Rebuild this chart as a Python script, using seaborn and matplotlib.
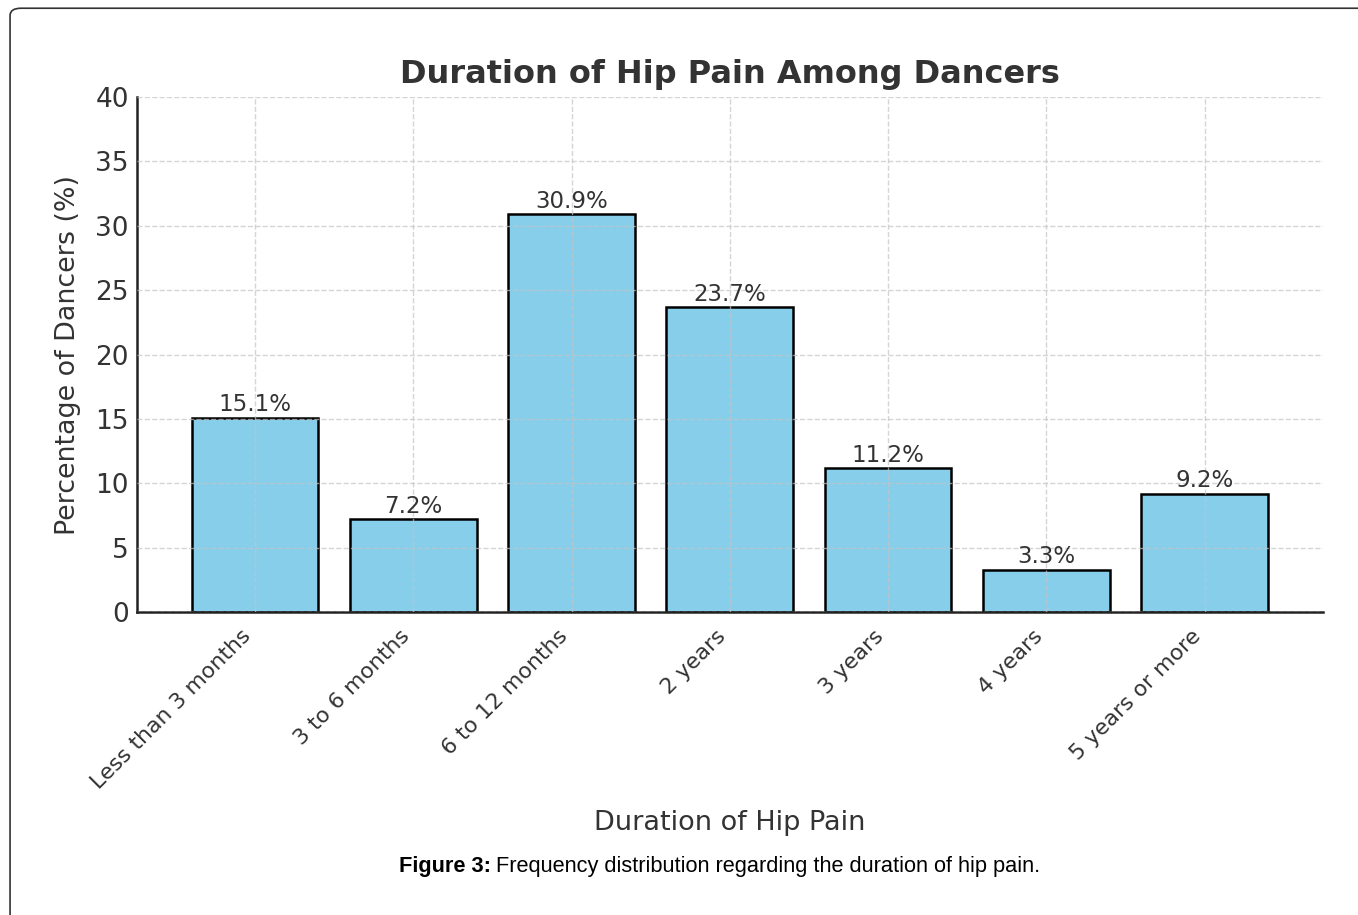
import matplotlib
matplotlib.use("Agg")
import matplotlib.pyplot as plt
import seaborn as sns
import pandas as pd
from matplotlib.patches import FancyBboxPatch

# DATA
durations = ["Less than 3 months", "3 to 6 months", "6 to 12 months",
             "2 years", "3 years", "4 years", "5 years or more"]
percentages = [15.1, 7.2, 30.9, 23.7, 11.2, 3.3, 9.2]
y_ticks = [0, 5, 10, 15, 20, 25, 30, 35, 40]

df = pd.DataFrame({"Duration": durations, "Percentage": percentages})

sns.set_style("white")
plt.rcParams["font.family"] = ["DejaVu Sans"]
text_color = "#333333"

fig = plt.figure(figsize=(13.58, 9.15), dpi=100)
ax = fig.add_axes([0.1009, 0.331, 0.873, 0.563])

sns.barplot(data=df, x="Duration", y="Percentage", color="skyblue",
            saturation=1, edgecolor="black", linewidth=1.8, width=0.8, ax=ax)

for c in ax.containers:
    ax.bar_label(c, fmt="{:.1f}%", padding=1, fontsize=16.5, color=text_color)

ax.set_ylim(0, 40)
ax.set_xlim(-0.745, 6.745)
ax.set_yticks(y_ticks)
ax.grid(True, linestyle="--", color="#c4c4c4", linewidth=1, alpha=0.7)
ax.set_axisbelow(False)
for s in ["top", "right"]:
    ax.spines[s].set_visible(False)
for s in ["left", "bottom"]:
    ax.spines[s].set_color("#222222")
    ax.spines[s].set_linewidth(1.8)

ax.tick_params(axis="both", direction="in", length=6, width=1.5, colors="#222222")
ax.tick_params(axis="y", labelsize=19, labelcolor=text_color, pad=6)
ax.tick_params(axis="x", labelsize=15.8, labelcolor=text_color, pad=10)
plt.setp(ax.get_xticklabels(), rotation=45, ha="right")

ax.set_title("Duration of Hip Pain Among Dancers", fontsize=23, fontweight="bold",
             color=text_color, pad=10)
ax.set_xlabel("Duration of Hip Pain", fontsize=19.5, color=text_color, labelpad=12)
ax.set_ylabel("Percentage of Dancers (%)", fontsize=19.4, color=text_color, labelpad=10)

# caption: bold prefix, normal text right after it
fig.canvas.draw()
cap_y = 0.053
t1 = fig.text(0.2938, cap_y, "Figure 3:", fontsize=15.7, fontweight="bold",
              family=["Liberation Sans"], color="black", va="center", ha="left")
bb = t1.get_window_extent(renderer=fig.canvas.get_renderer())
x2 = (bb.x1 + 5) / fig.bbox.width
fig.text(x2, cap_y, "Frequency distribution regarding the duration of hip pain.",
         fontsize=15.7, family=["Liberation Sans"], color="black", va="center", ha="left")

# border
border = FancyBboxPatch((0.0074, -0.05), 1.02, 1.041,
                        boxstyle="round,pad=0,rounding_size=0.008",
                        transform=fig.transFigure, fill=False,
                        edgecolor="#333333", linewidth=1.2)
fig.patches.append(border)

fig.savefig("out.png", dpi=100)
